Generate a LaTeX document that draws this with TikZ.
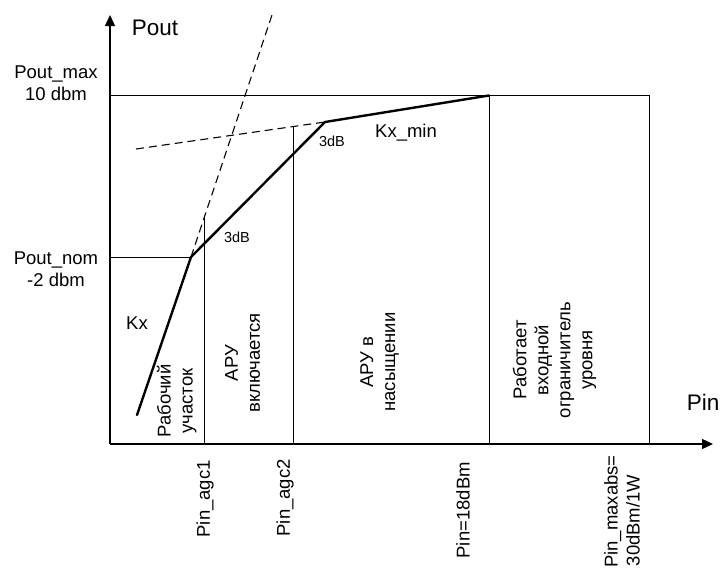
\documentclass[tikz,border=0pt]{standalone}
\usepackage{fontspec}
\setmainfont{Liberation Sans}
\usetikzlibrary{arrows.meta}
\begin{document}
\begin{tikzpicture}[x=1pt,y=-1pt,
  axis/.style={line width=1.3pt,-{Triangle[length=11pt,width=10pt]}},
  frameline/.style={line width=0.9pt},
  curve/.style={line width=2.4pt,line join=round,line cap=round},
  ext/.style={line width=1.1pt,dash pattern=on 8pt off 5pt},
  lbl/.style={font=\fontsize{18.5}{22}\selectfont,inner sep=0pt},
  big/.style={font=\fontsize{22.5}{26}\selectfont,inner sep=0pt},
  small/.style={font=\fontsize{14.5}{17}\selectfont,inner sep=0pt},
  vlbl/.style={lbl,rotate=90,align=center}
]
\useasboundingbox (0,0) rectangle (722,568);
% axes
\coordinate (O) at (110,444);
\coordinate (ytop) at (110,15);
\coordinate (xend) at (713,444);
\draw[axis] (O) -- (ytop);
\draw[axis] (O) -- (xend);
% key points
\coordinate (ymax) at (110,95.5);
\coordinate (ynom) at (110,257);
\coordinate (c0) at (137,415);
\coordinate (k1) at (191,257);
\coordinate (k2) at (325,122);
\coordinate (k3) at (489,95.5);
\coordinate (tr) at (649,95.5);
\coordinate (br) at (649,444);
\coordinate (b3) at (489,444);
\coordinate (b1) at (204,444);
\coordinate (t1) at (204,217);
\coordinate (b2) at (293,444);
\coordinate (t2) at (293,126.6);
\coordinate (d1) at (272,15);
\coordinate (d2) at (136,149);
% frame lines
\draw[frameline] (ymax) -- (tr) -- (br);
\draw[frameline] (k3) -- (b3);
\draw[frameline] (ynom) -- (k1);
\draw[frameline] (b1) -- (t1);
\draw[frameline] (b2) -- (t2);
% dashed extensions
\draw[ext] (k1) -- (d1);
\draw[ext] (d2) -- (k2);
% characteristic
\draw[curve] (c0) -- (k1) -- (k2) -- (k3);
% labels
\node[big] (pout) at (155,28) {Pout};
\node[big] (pin) at (703,402) {Pin};
\node[lbl,align=center] (poutmax) at (56,83) {Pout\_max\\10 dbm};
\node[lbl,align=center] (poutnom) at (56,269) {Pout\_nom\\-2 dbm};
\node[lbl] (kx) at (137,323) {Kx};
\node[lbl] (kxmin) at (406,133) {Kx\_min};
\node[small] (db1) at (237,237) {3dB};
\node[small] (db2) at (332,141) {3dB};
\node[vlbl] (z1) at (176.6,401) {Рабочий\\участок};
\node[vlbl] (z2) at (242.6,363) {АРУ\\включается};
\node[vlbl] (z3) at (379.5,362) {АРУ в\\насыщении};
\node[vlbl] (z4) at (554.5,360) {Работает\\входной\\ограничитель\\уровня};
\node[vlbl,anchor=east] (p1) at (205,460) {Pin\_agc1};
\node[vlbl,anchor=east] (p2) at (285,459) {Pin\_agc2};
\node[vlbl,anchor=east] (p3) at (463,462) {Pin=18dBm};
\node[vlbl,anchor=east] (p4) at (622,455) {Pin\_maxabs=\\30dBm/1W\hspace*{18pt}};
\end{tikzpicture}
\end{document}
